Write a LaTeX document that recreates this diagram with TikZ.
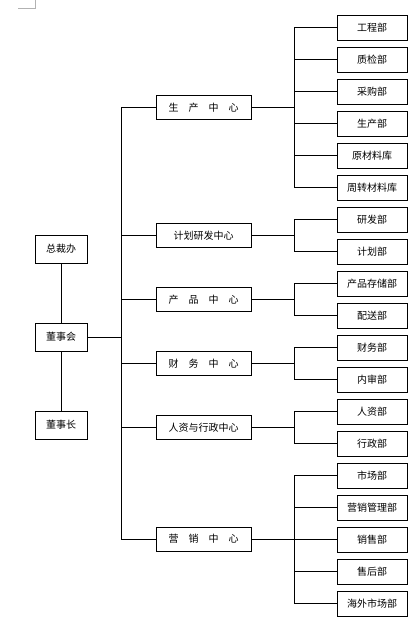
\documentclass[tikz,border=0pt]{standalone}
\usepackage{fontspec}
\newfontfamily\cjk{Noto Sans CJK SC}

\begin{document}
\begin{tikzpicture}[x=1pt,y=-1pt,node distance=32pt]
                \tikzstyle{dept} = [rectangle, draw, line width=0.8pt, minimum width=70pt, minimum height=25pt, inner sep=0pt, font=\cjk\fontsize{10}{12}\selectfont]
                \tikzstyle{center} = [rectangle, draw, line width=0.8pt, minimum width=95pt, minimum height=24pt, inner sep=0pt, font=\cjk\fontsize{10}{12}\selectfont]
                \tikzstyle{top} = [rectangle, draw, line width=0.8pt, minimum width=52pt, minimum height=28pt, inner sep=0pt, font=\cjk\fontsize{10}{12}\selectfont]
                \tikzstyle{line} = [line width=0.6pt]
                \useasboundingbox (0,0) rectangle (415,630);
                \draw [gray!60, line width=0.4pt] (35,0) -- (35,8) -- (18,8);

                % departments
                \node (eng) [dept] at (372,27.5) {工程部};
                \node (qc) [dept, below of=eng] {质检部};
                \node (buy) [dept, below of=qc] {采购部};
                \node (make) [dept, below of=buy] {生产部};
                \node (raw) [dept, below of=make] {原材料库};
                \node (turn) [dept, below of=raw] {周转材料库};
                \node (rd) [dept, below of=turn] {研发部};
                \node (sched) [dept, below of=rd] {计划部};
                \node (store) [dept, below of=sched] {产品存储部};
                \node (ship) [dept, below of=store] {配送部};
                \node (acct) [dept, below of=ship] {财务部};
                \node (audit) [dept, below of=acct] {内审部};
                \node (staff) [dept, below of=audit] {人资部};
                \node (admin) [dept, below of=staff] {行政部};
                \node (market) [dept, below of=admin] {市场部};
                \node (mktmgmt) [dept, below of=market] {营销管理部};
                \node (sell) [dept, below of=mktmgmt] {销售部};
                \node (after) [dept, below of=sell] {售后部};
                \node (overseas) [dept, below of=after] {海外市场部};

                % centers
                \node (prod) [center] at (203.5,107.5) {生\hspace{1em}产\hspace{1em}中\hspace{1em}心};
                \node (plan) [center] at (203.5,235.5) {计划研发中心};
                \node (goods) [center] at (203.5,299.5) {产\hspace{1em}品\hspace{1em}中\hspace{1em}心};
                \node (fin) [center] at (203.5,363.5) {财\hspace{1em}务\hspace{1em}中\hspace{1em}心};
                \node (hr) [center] at (203.5,427.5) {人资与行政中心};
                \node (sales) [center] at (203.5,539) {营\hspace{1em}销\hspace{1em}中\hspace{1em}心};

                % top management
                \node (office) [top] at (61,249) {总裁办};
                \node (board) [top] at (61,337) {董事会};
                \node (chair) [top] at (61,425) {董事长};

                \draw [line] (office) -- (board);
                \draw [line] (board) -- (chair);
                \foreach \c in {prod,plan,goods,fin,hr,sales}
                    \draw [line] (board.east) -- ++(34,0) |- (\c.west);
                \foreach \d in {eng,qc,buy,make,raw,turn}
                    \draw [line] (prod.east) -- ++(43,0) |- (\d.west);
                \foreach \d in {rd,sched}
                    \draw [line] (plan.east) -- ++(43,0) |- (\d.west);
                \foreach \d in {store,ship}
                    \draw [line] (goods.east) -- ++(43,0) |- (\d.west);
                \foreach \d in {acct,audit}
                    \draw [line] (fin.east) -- ++(43,0) |- (\d.west);
                \foreach \d in {staff,admin}
                    \draw [line] (hr.east) -- ++(43,0) |- (\d.west);
                \foreach \d in {market,mktmgmt,sell,after,overseas}
                    \draw [line] (sales.east) -- ++(43,0) |- (\d.west);
\end{tikzpicture}
\end{document}
